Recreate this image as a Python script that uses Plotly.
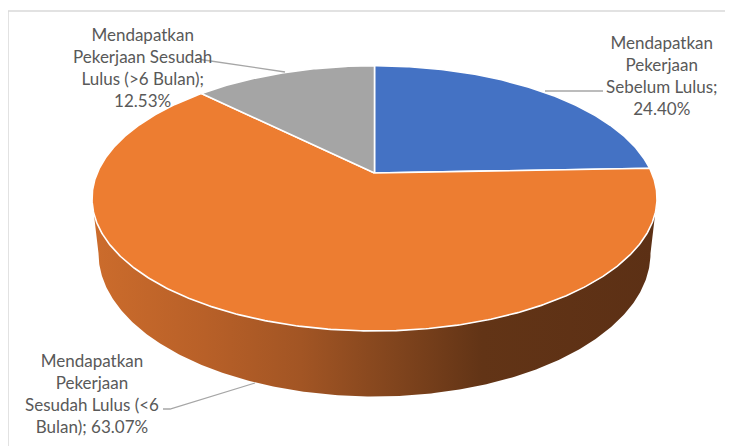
import math
import plotly.graph_objects as go

# ---------------- data ----------------
labels = [
    "Mendapatkan Pekerjaan Sebelum Lulus",
    "Mendapatkan Pekerjaan Sesudah Lulus (<6 Bulan)",
    "Mendapatkan Pekerjaan Sesudah Lulus (>6 Bulan)",
]
values = [24.40, 63.07, 12.53]
slice_colors = ["#4472C4", "#ED7D31", "#A5A5A5"]
label_texts = [
    "Mendapatkan<br>Pekerjaan<br>Sebelum Lulus;<br>24.40%",
    "Mendapatkan<br>Pekerjaan<br>Sesudah Lulus (<6<br>Bulan); 63.07%",
    "Mendapatkan<br>Pekerjaan Sesudah<br>Lulus (>6 Bulan);<br>12.53%",
]

# ---------------- 3D pie projection (page pixel space, y down) ----------------
W, H = 733, 446
OFF = 8  # browser body margin
CX, APEX_Y = 374.5, 173.0
R, S, K = 277.3, 127.8, 0.191
DEPTH = 53.0
BOTTOM_SCALE = 0.977


def proj(t_deg, drop=0.0, rscale=1.0):
    t = math.radians(t_deg)
    X, Y = math.sin(t), math.cos(t)
    w = 1 + K * Y
    return CX + R * rscale * X / w, APEX_Y - S * Y / w + drop / w


def arc(a0, a1, drop=0.0, rscale=1.0, step=0.5):
    n = max(2, int(abs(a1 - a0) / step) + 1)
    pts = [proj(a0 + (a1 - a0) * i / (n - 1), drop, rscale) for i in range(n)]
    return [p[0] for p in pts], [p[1] for p in pts]


fig = go.Figure()

# side wall (front half)
t_ext = math.degrees(math.acos(-K))
xs1, ys1 = arc(t_ext, 360 - t_ext)
xs2, ys2 = arc(360 - t_ext, t_ext, DEPTH, BOTTOM_SCALE)
fig.add_trace(go.Scatter(
    x=xs1 + xs2 + [xs1[0]], y=ys1 + ys2 + [ys1[0]],
    mode="lines", fill="toself", line=dict(width=0),
    fillgradient=dict(
        type="horizontal",
        colorscale=[
            [0.0, "rgb(204,108,44)"],
            [0.2, "rgb(184,96,40)"],
            [0.37, "rgb(162,85,36)"],
            [0.54, "rgb(128,68,29)"],
            [0.69, "rgb(98,52,22)"],
            [1.0, "rgb(92,48,21)"],
        ],
    ),
    hoverinfo="skip", showlegend=False,
))

# top face slices
total = sum(values)
start = 0.0
for lab, val, col in zip(labels, values, slice_colors):
    span = 360.0 * val / total
    ax, ay = arc(start, start + span)
    fig.add_trace(go.Scatter(
        x=[CX] + ax + [CX], y=[APEX_Y] + ay + [APEX_Y],
        mode="lines", fill="toself", fillcolor=col,
        line=dict(color="white", width=1.6),
        name=lab, hoverinfo="name", showlegend=False,
    ))
    start += span

# ---------------- layout ----------------
shapes = [
    dict(type="line", xref="x", yref="y", x0=8, y0=11, x1=W + 5, y1=11,
         line=dict(color="#D9D9D9", width=1.5)),
    dict(type="line", xref="x", yref="y", x0=8, y0=11, x1=8, y1=H + 5,
         line=dict(color="#D9D9D9", width=1.5)),
    # leader lines
    dict(type="path", xref="x", yref="y", path="M 545 91 L 603 91",
         line=dict(color="#A6A6A6", width=1.3)),
    dict(type="path", xref="x", yref="y", path="M 197 59 L 285 72",
         line=dict(color="#A6A6A6", width=1.3)),
    dict(type="path", xref="x", yref="y", path="M 163 409 L 170 409 L 255 383",
         line=dict(color="#A6A6A6", width=1.3)),
]

font = dict(family="Lato, sans-serif", size=17, color="#595959")
annotations = [
    dict(x=662, y=75, text=label_texts[0]),
    dict(x=92, y=393, text=label_texts[1]),
    dict(x=142, y=67, text=label_texts[2]),
]
for a in annotations:
    a.update(xref="x", yref="y", showarrow=False, align="center",
             xanchor="center", yanchor="middle", font=font)

fig.update_layout(
    width=W - OFF, height=H - OFF,
    margin=dict(l=0, r=0, t=0, b=0),
    paper_bgcolor="white", plot_bgcolor="white",
    xaxis=dict(range=[OFF, W], visible=False, fixedrange=True),
    yaxis=dict(range=[H, OFF], visible=False, fixedrange=True),
    shapes=shapes, annotations=annotations,
    showlegend=False,
)

fig.write_html("out.html")
